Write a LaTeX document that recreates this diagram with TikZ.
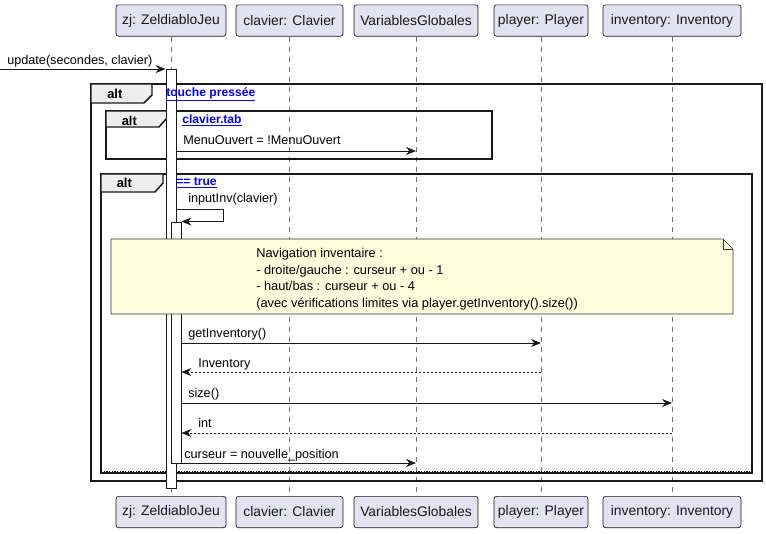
\documentclass[tikz,border=0pt]{standalone}
\usepackage{fontspec}
\setmainfont{Liberation Sans}
\usetikzlibrary{arrows.meta}
\definecolor{partfill}{HTML}{E2E2F0}
\definecolor{partdraw}{HTML}{181818}
\definecolor{notefill}{HTML}{FEFFDD}
\definecolor{tabfill}{HTML}{EEEEEE}
\definecolor{guardcol}{HTML}{0000FF}
\begin{document}
\begin{tikzpicture}[x=0.75pt,y=-0.75pt,
  part/.style={draw=partdraw, fill=partfill, rounded corners=1.9pt, line width=0.5pt,
    minimum height=23.5pt, inner sep=0pt, font=\fontsize{10.4pt}{12pt}\selectfont, text=black!90},
  life/.style={draw=black!55, dash pattern=on 3.75pt off 3.75pt, line width=0.5pt},
  actbar/.style={draw=black!90, fill=white, line width=0.6pt, minimum width=7.5pt, inner sep=0pt, anchor=north},
  frm/.style={draw=black!90, line width=1.1pt},
  tabshape/.style={draw=black!90, fill=tabfill, line width=1.1pt},
  alttxt/.style={anchor=west, inner sep=0pt, font=\bfseries\fontsize{9.75pt}{12pt}\selectfont},
  guardtxt/.style={anchor=west, inner sep=0pt, text=guardcol, font=\bfseries\fontsize{9.1pt}{10pt}\selectfont},
  lbl/.style={anchor=west, inner sep=0pt, font=\fontsize{9.5pt}{12pt}\selectfont, text height=7pt, text depth=2pt},
  msg/.style={draw=black!90, line width=0.75pt, -{Stealth[length=7.5pt,width=6pt,inset=2.5pt]}},
  ret/.style={msg, dash pattern=on 1.5pt off 1.5pt, line width=0.6pt}
]
\useasboundingbox (0,0) rectangle (766,533);

% participants
\node[part, minimum width=82.5pt]  (zjT) at (171,20.5) {zj: ZeldiabloJeu};
\node[part, minimum width=80.25pt] (clT) at (289.5,20.5) {clavier: Clavier};
\node[part, minimum width=93pt]    (vgT) at (416,20.5) {VariablesGlobales};
\node[part, minimum width=70.5pt]  (plT) at (541,20.5) {player: Player};
\node[part, minimum width=103.5pt] (inT) at (672,20.5) {inventory: Inventory};
\node[part, minimum width=82.5pt]  (zjB) at (171,512) {zj: ZeldiabloJeu};
\node[part, minimum width=80.25pt] (clB) at (289.5,512) {clavier: Clavier};
\node[part, minimum width=93pt]    (vgB) at (416,512) {VariablesGlobales};
\node[part, minimum width=70.5pt]  (plB) at (541,512) {player: Player};
\node[part, minimum width=103.5pt] (inB) at (672,512) {inventory: Inventory};

% lifelines
\draw[life] (zjT) -- (zjB);
\draw[life] (clT) -- (clB);
\draw[life] (vgT) -- (vgB);
\draw[life] (plT) -- (plB);
\draw[life] (inT) -- (inB);

% frames
\draw[frm] (91,84) rectangle (762,481);
\draw[tabshape] (91,84) -- (152,84) -- (152,95) -- (144,103) -- (91,103) -- cycle;
\node[alttxt] (alt1) at (107,94.3) {alt};

\draw[frm] (106,111) rectangle (492,159);
\draw[tabshape] (106,111) -- (167,111) -- (167,118) -- (159,127) -- (106,127) -- cycle;
\node[alttxt] (alt2) at (121.5,120.5) {alt};

\draw[frm] (101,174) rectangle (752,473);
\draw[tabshape] (101,174) -- (163,174) -- (163,183) -- (155,192) -- (101,192) -- cycle;
\node[alttxt] (alt3) at (116.5,183.3) {alt};
\draw[dash pattern=on 1pt off 1pt, line width=0.5pt] (101,471) -- (752,471);

% activations
\node[actbar, minimum height=314.25pt] (act1) at (171,69) {};
\node[actbar, minimum height=181.1pt] (act2) at (176,221.5) {};

% guards
\node[guardtxt] (g1) at (166,94.5) {\underline{touche pressée}};
\node[guardtxt] (g2) at (182,120.5) {\underline{clavier.tab}};
\node[guardtxt] (g3) at (176,182.5) {\underline{== true}};

% rows
\coordinate (ext) at (0,69);
\coordinate (r1) at (0,151);
\coordinate (s1) at (223,209);
\coordinate (s2) at (223,221.5);
\coordinate (r3) at (0,343);
\coordinate (r4) at (0,372);
\coordinate (r5) at (0,403);
\coordinate (r6) at (0,433);
\coordinate (r7) at (0,463);

% messages
\draw[msg] (ext) -- (act1.north west);
\node[lbl] (l0) at (7,61.5) {update(secondes, clavier)};

\draw[msg] (act1.east |- r1) -- (vgT |- r1);
\node[lbl] (l1) at (183,141.5) {MenuOuvert = !MenuOuvert};

\draw[msg] (act1.east |- s1) -- (s1) -- (s2) -- (act2.north east);
\node[lbl] (l2) at (188,199.5) {inputInv(clavier)};

% note
\draw[draw=black!80, fill=notefill, line width=0.5pt] (111,239) -- (723,239) -- (733,249) -- (733,314) -- (111,314) -- cycle;
\draw[draw=black!80, line width=0.5pt] (723,239) -- (723,249) -- (733,249);
\node[anchor=north west, align=left, inner sep=0pt, font=\fontsize{9.6pt}{12.4pt}\selectfont] (note) at (256,248)
 {Navigation inventaire :\\
  - droite/gauche : curseur + ou - 1\\
  - haut/bas : curseur + ou - 4\\
  (avec vérifications limites via player.getInventory().size())};

\draw[msg] (act2.east |- r3) -- (plT |- r3);
\node[lbl] (l3) at (188,334.5) {getInventory()};

\draw[ret] (plT |- r4) -- (act2.east |- r4);
\node[lbl] (l4) at (198,364) {Inventory};

\draw[msg] (act2.east |- r5) -- (inT |- r5);
\node[lbl] (l5) at (188,394) {size()};

\draw[ret] (inT |- r6) -- (act2.east |- r6);
\node[lbl] (l6) at (198,424.5) {int};

\draw[msg] (act2.east |- r7) -- (vgT |- r7);
\node[lbl] (l7) at (184,455.5) {curseur = nouvelle\_position};
\end{tikzpicture}
\end{document}
